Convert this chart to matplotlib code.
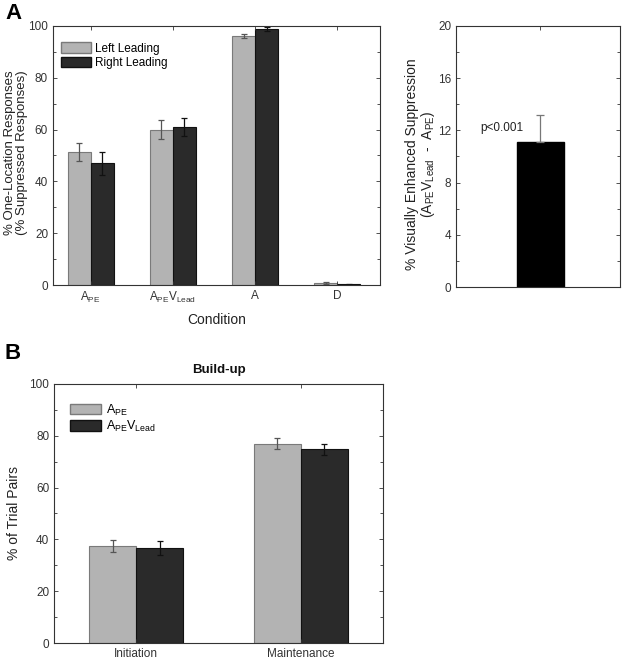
import matplotlib
matplotlib.use("Agg")
import matplotlib.pyplot as plt
from matplotlib.patches import Patch
from matplotlib.ticker import MultipleLocator
import numpy as np

plt.rcParams['font.family'] = ['Liberation Sans', 'DejaVu Sans']
plt.rcParams['mathtext.fontset'] = 'custom'
plt.rcParams['mathtext.rm'] = 'Liberation Sans'
plt.rcParams['mathtext.it'] = 'Liberation Sans'
plt.rcParams['mathtext.default'] = 'regular'

# ---- Data ----
condA = [r'A$_{PE}$', r'A$_{PE}$V$_{Lead}$', 'A', 'D']
left_leading = [51.5, 60.0, 96.0, 0.8]
left_err = [3.5, 3.6, 0.8, 0.3]
right_leading = [47.0, 61.0, 98.8, 0.3]
right_err = [4.5, 3.6, 0.7, 0.1]

diff_value = [11.1]
diff_err = [2.1]
p_text = 'p<0.001'

condB = ['Initiation', 'Maintenance']
ape = [37.5, 77.0]
ape_err = [2.4, 2.1]
apevlead = [36.5, 74.8]
apevlead_err = [2.7, 2.2]

LIGHT = '#b3b3b3'
LIGHT_EDGE = '#7a7a7a'
DARK = '#2a2a2a'
DARK_EDGE = '#111111'

fig = plt.figure(figsize=(6.23, 6.63), dpi=100)

def style(ax):
    ax.tick_params(direction='in', top=True, right=True, labelsize=8.5, length=3, width=0.6, colors='#333333', labelcolor='#333333')
    ax.tick_params(which='minor', direction='in', top=False, right=True, length=2, width=0.6, colors='#333333')
    for s in ax.spines.values():
        s.set_linewidth(0.8)
        s.set_color('#333333')

# ---- Panel A left ----
ax1 = fig.add_axes([0.085, 0.570, 0.525, 0.391])
x = np.arange(1, len(condA) + 1)
w = 0.28
ax1.bar(x - w/2, left_leading, w, color=LIGHT, edgecolor=LIGHT_EDGE, linewidth=0.8,
        yerr=left_err, error_kw=dict(ecolor='#555555', capsize=2.5, elinewidth=0.9, capthick=0.9))
ax1.bar(x + w/2, right_leading, w, color=DARK, edgecolor=DARK_EDGE, linewidth=0.8,
        yerr=right_err, error_kw=dict(ecolor='#111111', capsize=2.5, elinewidth=0.9, capthick=0.9))
ax1.set_xlim(0.54, 4.52)
ax1.set_ylim(0, 100)
ax1.set_xticks(x)
ax1.set_xticklabels(condA, fontsize=8.5)
ax1.yaxis.set_major_locator(MultipleLocator(20))
ax1.yaxis.set_minor_locator(MultipleLocator(10))
style(ax1)
ax1.set_xlabel('Condition', fontsize=10, color='#222222', labelpad=6)
ax1.set_ylabel('% One-Location Responses\n(% Suppressed Responses)', fontsize=9.5, color='#222222', linespacing=1.0)
ax1.yaxis.set_label_coords(-0.076, 0.51)
ax1.legend(handles=[Patch(facecolor=LIGHT, edgecolor=LIGHT_EDGE, label='Left Leading'),
                    Patch(facecolor=DARK, edgecolor=DARK_EDGE, label='Right Leading')],
           loc='upper left', bbox_to_anchor=(0.0, 0.968), frameon=False, fontsize=8.5,
           handlelength=2.5, handleheight=0.95, handletextpad=0.35, labelspacing=0.2, borderaxespad=0.3)

# ---- Panel A right ----
ax2 = fig.add_axes([0.732, 0.567, 0.263, 0.394])
ax2.bar([1], diff_value, 0.287, color='black', edgecolor='black')
ax2.errorbar([1], diff_value, yerr=[[0], diff_err], fmt='none', ecolor='#777777', capsize=3, elinewidth=0.9, capthick=0.9)
ax2.set_xlim(0.485, 1.485)
ax2.set_ylim(0, 20)
ax2.set_xticks([1])
ax2.set_xticklabels([''])
ax2.yaxis.set_major_locator(MultipleLocator(4))
ax2.yaxis.set_minor_locator(MultipleLocator(2))
style(ax2)
ax2.tick_params(axis='x', bottom=False)
ax2.text(0.631, 12.2, p_text, fontsize=8.5, ha='left', va='center', color='#222222')
ax2.set_ylabel('% Visually Enhanced Suppression\n' + r'(A$_{PE}$V$_{Lead}$  -  A$_{PE}$)',
               fontsize=10, color='#222222', linespacing=1.0)
ax2.yaxis.set_label_coords(-0.115, 0.47)

# ---- Panel B ----
ax3 = fig.add_axes([0.0867, 0.030, 0.528, 0.391])
xb = np.arange(1, len(condB) + 1)
wb = 0.285
ax3.bar(xb - wb/2, ape, wb, color=LIGHT, edgecolor=LIGHT_EDGE, linewidth=0.8,
        yerr=ape_err, error_kw=dict(ecolor='#555555', capsize=2.5, elinewidth=0.9, capthick=0.9))
ax3.bar(xb + wb/2, apevlead, wb, color=DARK, edgecolor=DARK_EDGE, linewidth=0.8,
        yerr=apevlead_err, error_kw=dict(ecolor='#111111', capsize=2.5, elinewidth=0.9, capthick=0.9))
ax3.set_xlim(0.5, 2.5)
ax3.set_ylim(0, 100)
ax3.set_xticks(xb)
ax3.set_xticklabels(condB, fontsize=8.5)
ax3.yaxis.set_major_locator(MultipleLocator(20))
ax3.yaxis.set_minor_locator(MultipleLocator(10))
style(ax3)
ax3.set_title('Build-up', fontsize=9.5, fontweight='bold', pad=8, color='#111111')
ax3.set_ylabel('% of Trial Pairs', fontsize=10, color='#222222', labelpad=6)
ax3.legend(handles=[Patch(facecolor=LIGHT, edgecolor=LIGHT_EDGE, label=r'A$_{PE}$'),
                    Patch(facecolor=DARK, edgecolor=DARK_EDGE, label=r'A$_{PE}$V$_{Lead}$')],
           loc='upper left', bbox_to_anchor=(0.022, 0.962), frameon=False, fontsize=9,
           handlelength=2.5, handleheight=0.9, handletextpad=0.35, labelspacing=0.1, borderaxespad=0.3)

fig.text(0.008, 0.995, 'A', fontsize=16, fontweight='bold', ha='left', va='top')
fig.text(0.008, 0.482, 'B', fontsize=16, fontweight='bold', ha='left', va='top')

fig.savefig('out.png', dpi=100)
